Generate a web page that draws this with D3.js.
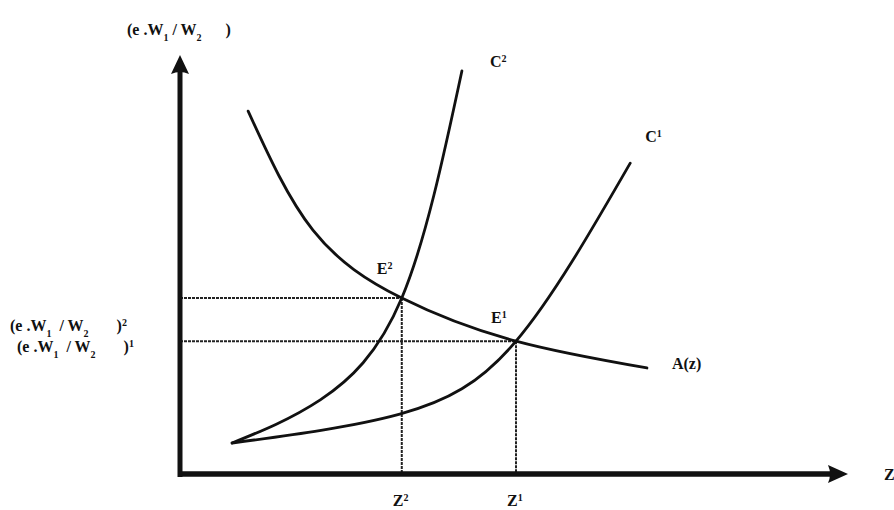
<!DOCTYPE html>
<html>
<head>
<meta charset="utf-8">
<script src="https://cdn.jsdelivr.net/npm/d3@7/dist/d3.min.js"></script>
<style>
  body { margin: 0; background: #fff; }
  svg text { font-family: "Liberation Serif", "Times New Roman", serif; font-weight: bold; fill: #111; white-space: pre; }
</style>
</head>
<body>
<div id="chart-container"></div>
<script>
// pontos das curvas (z, e.W1/W2) em unidades arbitrárias
const aCurve = [[10.2, 86.6], [19.9, 58.2], [33.2, 42.0], [50.3, 31.7], [69.9, 25.3]];
const c2Curve = [[7.8, 7.4], [21.0, 17.7], [33.2, 42.0], [42.2, 96.2]];
const c1Curve = [[7.8, 7.4], [32.9, 14.3], [50.3, 31.7], [67.4, 74.2]];

// equilíbrios E2 e E1
const equilibria = [
  { name: "E", sup: "2", z: 33.2, r: 42.0, zName: "2" },
  { name: "E", sup: "1", z: 50.3, r: 31.7, zName: "1" }
];

const curveLabels = [
  { data: c2Curve, name: "C", sup: "2" },
  { data: c1Curve, name: "C", sup: "1" },
  { data: aCurve, name: "A(z)", sup: "" }
];

const width = 894;
const height = 510;

// escalas
const x = d3.scaleLinear().domain([0, 100]).range([180, 848]);
const y = d3.scaleLinear().domain([0, 100]).range([474, 55]);

const svg = d3.select("#chart-container")
  .append("svg")
  .attr("width", width)
  .attr("height", height);

// linhas pontilhadas até os eixos
equilibria.forEach(e => {
  svg.append("line")
    .attr("x1", x(0)).attr("x2", x(e.z))
    .attr("y1", y(e.r)).attr("y2", y(e.r))
    .attr("stroke", "#222").attr("stroke-width", 2)
    .attr("stroke-dasharray", "3,1");
  svg.append("line")
    .attr("x1", x(e.z)).attr("x2", x(e.z))
    .attr("y1", y(e.r)).attr("y2", y(0))
    .attr("stroke", "#222").attr("stroke-width", 2)
    .attr("stroke-dasharray", "3,1");
});

// curvas
const line = d3.line()
  .x(d => x(d[0]))
  .y(d => y(d[1]))
  .curve(d3.curveNatural);

[aCurve, c2Curve, c1Curve].forEach(c => {
  svg.append("path")
    .datum(c)
    .attr("fill", "none")
    .attr("stroke", "#111")
    .attr("stroke-width", 2.8)
    .attr("stroke-linecap", "round")
    .attr("d", line);
});

// eixos
svg.append("line")
  .attr("x1", x(0)).attr("x2", x(0))
  .attr("y1", y(0) + 3).attr("y2", y(100) + 14)
  .attr("stroke", "#111").attr("stroke-width", 5);
svg.append("line")
  .attr("x1", x(0) - 2).attr("x2", x(100) - 14)
  .attr("y1", y(0)).attr("y2", y(0))
  .attr("stroke", "#111").attr("stroke-width", 5.5);

// pontas de seta
svg.append("path")
  .attr("d", `M${x(0)},${y(100)} L${x(0) + 9},${y(100) + 19} Q${x(0)},${y(100) + 15} ${x(0) - 9},${y(100) + 19} Z`)
  .attr("fill", "#111");
svg.append("path")
  .attr("d", `M${x(100)},${y(0)} L${x(100) - 20},${y(0) - 9} Q${x(100) - 16},${y(0)} ${x(100) - 20},${y(0) + 9} Z`)
  .attr("fill", "#111");

// texto com índices
function label(sel, parts) {
  parts.forEach(p => {
    const t = sel.append("tspan").text(p.t);
    if (p.sub) t.attr("font-size", "10px").attr("baseline-shift", "sub");
    if (p.sup) t.attr("font-size", "10px").attr("baseline-shift", "super");
  });
}

const ratioParts = [{ t: "(e .W" }, { t: "1", sub: true }, { t: " / W" }, { t: "2", sub: true }, { t: "      )" }];

// rótulo do eixo y
label(svg.append("text").attr("x", 127).attr("y", 35).style("font-size", "16px"), ratioParts);

// rótulos dos equilíbrios no eixo y
equilibria.forEach((e, i) => {
  label(svg.append("text")
      .attr("x", i === 0 ? 10 : 17)
      .attr("y", y(e.r) + (i === 0 ? 33 : 11))
      .style("font-size", "16px"),
    [{ t: "(e .W" }, { t: "1", sub: true }, { t: "  / W" }, { t: "2", sub: true }, { t: "       )" }, { t: e.sup, sup: true }]);

  label(svg.append("text")
      .attr("x", x(e.z) - 25)
      .attr("y", y(e.r) + (i === 0 ? -24 : -18))
      .style("font-size", "16px"),
    [{ t: e.name }, { t: e.sup, sup: true }]);

  label(svg.append("text")
      .attr("x", x(e.z) - 9)
      .attr("y", y(0) + 32)
      .style("font-size", "16px"),
    [{ t: "Z" }, { t: e.zName, sup: true }]);
});

// rótulos das curvas
curveLabels.forEach(c => {
  const last = c.data[c.data.length - 1];
  const dx = c.sup === "2" ? 28 : c.sup === "1" ? 15 : 25;
  const dy = c.sup === "2" ? -4 : c.sup === "1" ? -21 : 1;
  label(svg.append("text")
      .attr("x", x(last[0]) + dx)
      .attr("y", y(last[1]) + dy)
      .style("font-size", "16px"),
    [{ t: c.name }, { t: c.sup, sup: true }]);
});

// rótulo do eixo x
svg.append("text")
  .attr("x", 884)
  .attr("y", y(0) + 6)
  .style("font-size", "16px")
  .text("Z");
</script>
</body>
</html>
